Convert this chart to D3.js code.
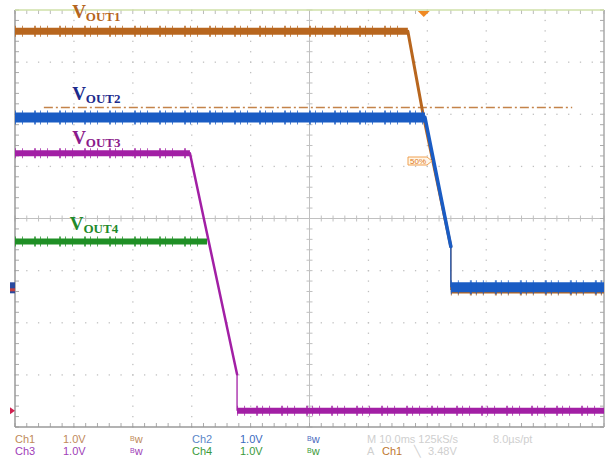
<!DOCTYPE html>
<html><head><meta charset="utf-8">
<script src="https://cdn.jsdelivr.net/npm/d3@7"></script>
<style>body{margin:0;background:#fff}svg{display:block}</style>
</head><body><svg id="c" width="609" height="463"></svg>
<script>
// time in ms (10 ms/div), vertical value in divisions from screen centre (1.0 V/div)
const ch1 = [[0,3.59],[66.7,3.59],[69.4,1.93],[74.0,-0.54],[74.0,-1.37],[100,-1.37]];
const ch2 = [[0,1.94],[69.6,1.94],[74.0,-0.54],[74.0,-1.32],[100,-1.32]];
const ch3 = [[0,1.25],[29.7,1.25],[37.7,-2.99],[37.7,-3.69],[100,-3.69]];
const ch4 = [[0,-0.44],[32.6,-0.44]];
const refLevel = [[4.9,2.13],[94.6,2.13]];
const triggerTime = 69.4;
const traceNames = ["OUT1","OUT2","OUT3","OUT4"];
const traceNamePos = [[9.7,3.84],[9.7,2.28],[9.7,1.42],[9.3,-0.23]];
const infoRow1 = ["Ch1","1.0V","Bw","Ch2","1.0V","Bw","M 10.0ms 125kS/s","8.0µs/pt"];
const infoRow2 = ["Ch3","1.0V","Bw","Ch4","1.0V","Bw","A","Ch1","\u2572","3.48V"];

const svg = d3.select("#c");
const x = d3.scaleLinear().domain([0,100]).range([15,604]);
const y = d3.scaleLinear().domain([-4,4]).range([427,10]);
const gridCol = "#c0c0c0";

// grid dots
const g = svg.append("g");
const majorT = d3.range(10,100,10).filter(t=>t!==50);
const majorV = d3.range(-3,4,1).filter(v=>v!==0);
const minorT = d3.range(0,100.01,2);
const minorV = d3.range(-4,4.01,0.2);
majorT.forEach(t=>minorV.forEach(v=>g.append("rect").attr("x",x(t)-0.6).attr("y",y(v)-0.6).attr("width",1.3).attr("height",1.3).attr("fill",gridCol)));
majorV.forEach(v=>minorT.forEach(t=>g.append("rect").attr("x",x(t)-0.6).attr("y",y(v)-0.6).attr("width",1.3).attr("height",1.3).attr("fill",gridCol)));
// centre axes with ticks
g.append("line").attr("x1",x(0)).attr("x2",x(100)).attr("y1",y(0)).attr("y2",y(0)).attr("stroke",gridCol);
g.append("line").attr("x1",x(50)).attr("x2",x(50)).attr("y1",y(-4)).attr("y2",y(4)).attr("stroke",gridCol);
minorT.forEach(t=>g.append("line").attr("x1",x(t)).attr("x2",x(t)).attr("y1",y(0)-3).attr("y2",y(0)+3).attr("stroke",gridCol));
minorV.forEach(v=>g.append("line").attr("x1",x(50)-3).attr("x2",x(50)+3).attr("y1",y(v)).attr("y2",y(v)).attr("stroke",gridCol));
// border ticks
minorT.forEach(t=>{
  g.append("line").attr("x1",x(t)).attr("x2",x(t)).attr("y1",y(-4)).attr("y2",y(-4)-4).attr("stroke","#aaa");
  g.append("line").attr("x1",x(t)).attr("x2",x(t)).attr("y1",y(4)).attr("y2",y(4)+4).attr("stroke","#bbb");
});
minorV.forEach(v=>{
  g.append("line").attr("x1",x(0)).attr("x2",x(0)+4).attr("y1",y(v)).attr("y2",y(v)).attr("stroke","#aaa");
  g.append("line").attr("x1",x(100)).attr("x2",x(100)-4).attr("y1",y(v)).attr("y2",y(v)).attr("stroke","#aaa");
});
// border
g.append("line").attr("x1",x(0)).attr("x2",x(0)).attr("y1",y(4)).attr("y2",y(-4)).attr("stroke","#9a9a9a").attr("stroke-width",1.5);
g.append("line").attr("x1",x(0)).attr("x2",x(100)).attr("y1",y(-4)).attr("y2",y(-4)).attr("stroke","#9a9a9a").attr("stroke-width",1.5);
g.append("line").attr("x1",x(100)).attr("x2",x(100)).attr("y1",y(4)).attr("y2",y(-4)).attr("stroke","#a8a8a8").attr("stroke-width",1.5);
g.append("line").attr("x1",x(0)).attr("x2",x(100)).attr("y1",y(4)).attr("y2",y(4)).attr("stroke","#cfe0a8").attr("stroke-width",1.5);

// reference dash-dot level
const line = d3.line().x(d=>x(d[0])).y(d=>y(d[1]));
svg.append("path").attr("d",line(refLevel)).attr("fill","none").attr("stroke","#c4834a").attr("stroke-width",1.6).attr("stroke-dasharray","9,3,2,3");

// traces
function trace(data,col,band,edge){
  const tg = svg.append("g");
  for(let i=0;i<data.length-1;i++){
    const seg=[data[i],data[i+1]];
    if(data[i][1]===data[i+1][1]){
      tg.append("path").attr("d",line(seg)).attr("stroke",col).attr("stroke-width",band);
      tg.append("path").attr("d",line(seg)).attr("stroke",col).attr("stroke-width",band+4).attr("stroke-dasharray","1,6,1,11,2,4").attr("opacity",0.75);
    } else if(data[i][0]===data[i+1][0]){
      tg.append("path").attr("d",line(seg)).attr("stroke",col).attr("stroke-width",1.3);
    } else {
      tg.append("path").attr("d",line(seg)).attr("stroke",col).attr("stroke-width",edge).attr("stroke-linecap","round");
    }
  }
}
trace(ch1,"#b8661e",7,3);
trace(ch4,"#1f8f25",6,2.5);
trace(ch3,"#a21fa5",6,2.5);
trace(ch2,"#1a5cc4",10,3.5);

// trace names
const nameCols = ["#b5651d","#1c2a8c","#8b1a8b","#1f8a2a"];
traceNames.forEach((n,i)=>{
  const t = svg.append("text").attr("x",x(traceNamePos[i][0])).attr("y",y(traceNamePos[i][1]))
    .attr("font-family","Liberation Serif, serif").attr("font-weight","bold").attr("fill",nameCols[i]);
  t.append("tspan").attr("font-size",19).text("V");
  t.append("tspan").attr("font-size",13).attr("dy",3).text(n);
});

// trigger marker
svg.append("path").attr("d",`M${x(triggerTime)-6},${y(4)+1}L${x(triggerTime)+6},${y(4)+1}L${x(triggerTime)},${y(4)+7}Z`).attr("fill","#f08a24");
// 50% label
const lx=408, ly=157;
svg.append("path").attr("d",`M${lx},${ly}H${lx+19}L${lx+24},${ly+4}L${lx+19},${ly+8}H${lx}Z`).attr("fill","#fff6e8").attr("stroke","#f0a050").attr("stroke-width",1);
svg.append("text").attr("x",lx+2).attr("y",ly+7).attr("font-size",8).attr("font-family","Liberation Sans, sans-serif").attr("fill","#e07820").text("50%");
// ground markers
svg.append("rect").attr("x",10).attr("y",y(-1.32)-5).attr("width",5).attr("height",11).attr("fill","#2a4aa0");
svg.append("rect").attr("x",10).attr("y",y(-1.32)+1).attr("width",5).attr("height",3).attr("fill","#c04040");
svg.append("path").attr("d",`M10,${y(-3.69)-3.5}L15,${y(-3.69)}L10,${y(-3.69)+3.5}Z`).attr("fill","#d02050");

// info rows
const r1x=[15,63,130,192,240,307,367,493];
const r2x=[15,63,130,192,240,307,367,382,414,428];
const r1c=["#c08a5a","#c08a5a","#c08a5a","#5a86c8","#3a6ac0","#4a6ac0","#cfcfcf","#cfcfcf"];
const r2c=["#a040b8","#a040b8","#a040b8","#3a9a3a","#3a9a3a","#3a9a3a","#cfcfcf","#c07830","#cfcfcf","#cfcfcf"];
function info(row,xs,cs,yy){
  row.forEach((s,i)=>{
    const t=svg.append("text").attr("x",xs[i]).attr("y",yy).attr("font-size",11).attr("font-family","Liberation Sans, Arial, sans-serif").attr("fill",cs[i]);
    if(s==="Bw"){t.append("tspan").attr("font-size",7).attr("dy",-2).text("B");t.append("tspan").attr("dy",2).attr("font-size",11).text("w");}
    else t.text(s);
  });
}
info(infoRow1,r1x,r1c,443);
info(infoRow2,r2x,r2c,455);
</script></body></html>
